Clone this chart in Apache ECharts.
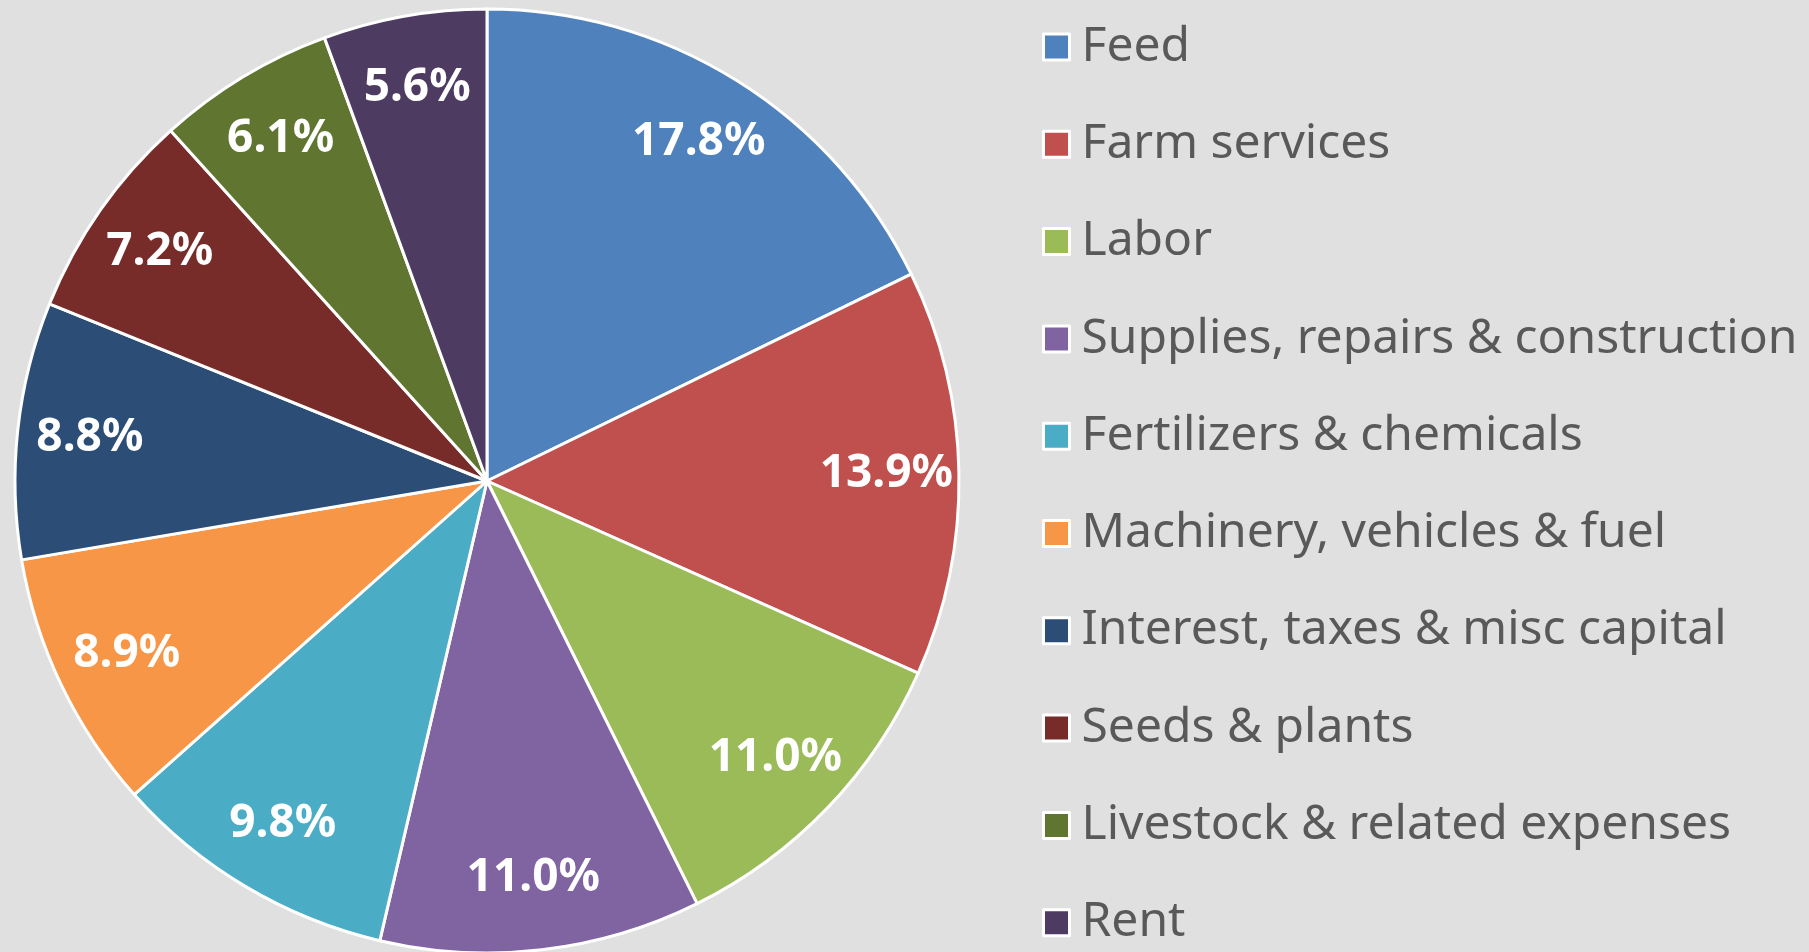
<!DOCTYPE html>
<html>
<head>
<meta charset="utf-8">
<script src="https://cdn.jsdelivr.net/npm/echarts@6/dist/echarts.min.js"></script>
<style>
  html, body { margin: 0; padding: 0; background: #e0e0e0; }
  #main { width: 1809px; height: 952px; }
</style>
</head>
<body>
<div id="main"></div>
<script>
// categories and shares (%)
const categories = [
  'Feed',
  'Farm services',
  'Labor',
  'Supplies, repairs & construction',
  'Fertilizers & chemicals',
  'Machinery, vehicles & fuel',
  'Interest, taxes & misc capital',
  'Seeds & plants',
  'Livestock & related expenses',
  'Rent'
]
const shares = [17.8, 13.9, 11.0, 11.0, 9.8, 8.9, 8.8, 7.2, 6.1, 5.6]
const colors = ['#4F81BD', '#C0504D', '#9BBB59', '#8064A2', '#4BACC6',
  '#F79646', '#2C4D75', '#772C2A', '#5F7530', '#4D3B62']

const pieData = categories.map((name, i) => ({ name: name, value: shares[i] }))

const chart = echarts.init(document.getElementById('main'))

const center = [487, 481]
const R = 472

chart.setOption({
  backgroundColor: '#e0e0e0',
  color: colors,
  animation: false,
  legend: {
    orient: 'vertical',
    left: 1037,
    top: 17,
    height: 1000,
    icon: 'rect',
    itemWidth: 26,
    itemHeight: 26,
    itemGap: 47.3,
    itemStyle: { borderColor: '#fff', borderWidth: 3 },
    textStyle: {
      fontFamily: 'Noto Sans',
      fontSize: 48,
      lineHeight: 50,
      color: '#595959',
      padding: [0, 0, 0, 7]
    },
    data: categories
  },
  series: [
    {
      // the pie itself
      type: 'pie',
      center: center,
      radius: R,
      startAngle: 90,
      clockwise: true,
      silent: true,
      label: { show: false },
      labelLine: { show: false },
      itemStyle: { borderColor: '#fff', borderWidth: 3 },
      data: pieData
    },
    {
      // transparent ring, only used to put the labels near the rim
      type: 'pie',
      center: center,
      radius: [R * 0.68, R],
      startAngle: 90,
      clockwise: true,
      silent: true,
      legendHoverLink: false,
      itemStyle: { color: 'rgba(0,0,0,0)' },
      label: {
        show: true,
        position: 'inside',
        formatter: p => p.value.toFixed(1) + '%',
        color: '#fff',
        fontFamily: 'Noto Sans',
        fontWeight: 'bold',
        fontSize: 46
      },
      labelLine: { show: false },
      data: pieData
    }
  ]
})
</script>
</body>
</html>
